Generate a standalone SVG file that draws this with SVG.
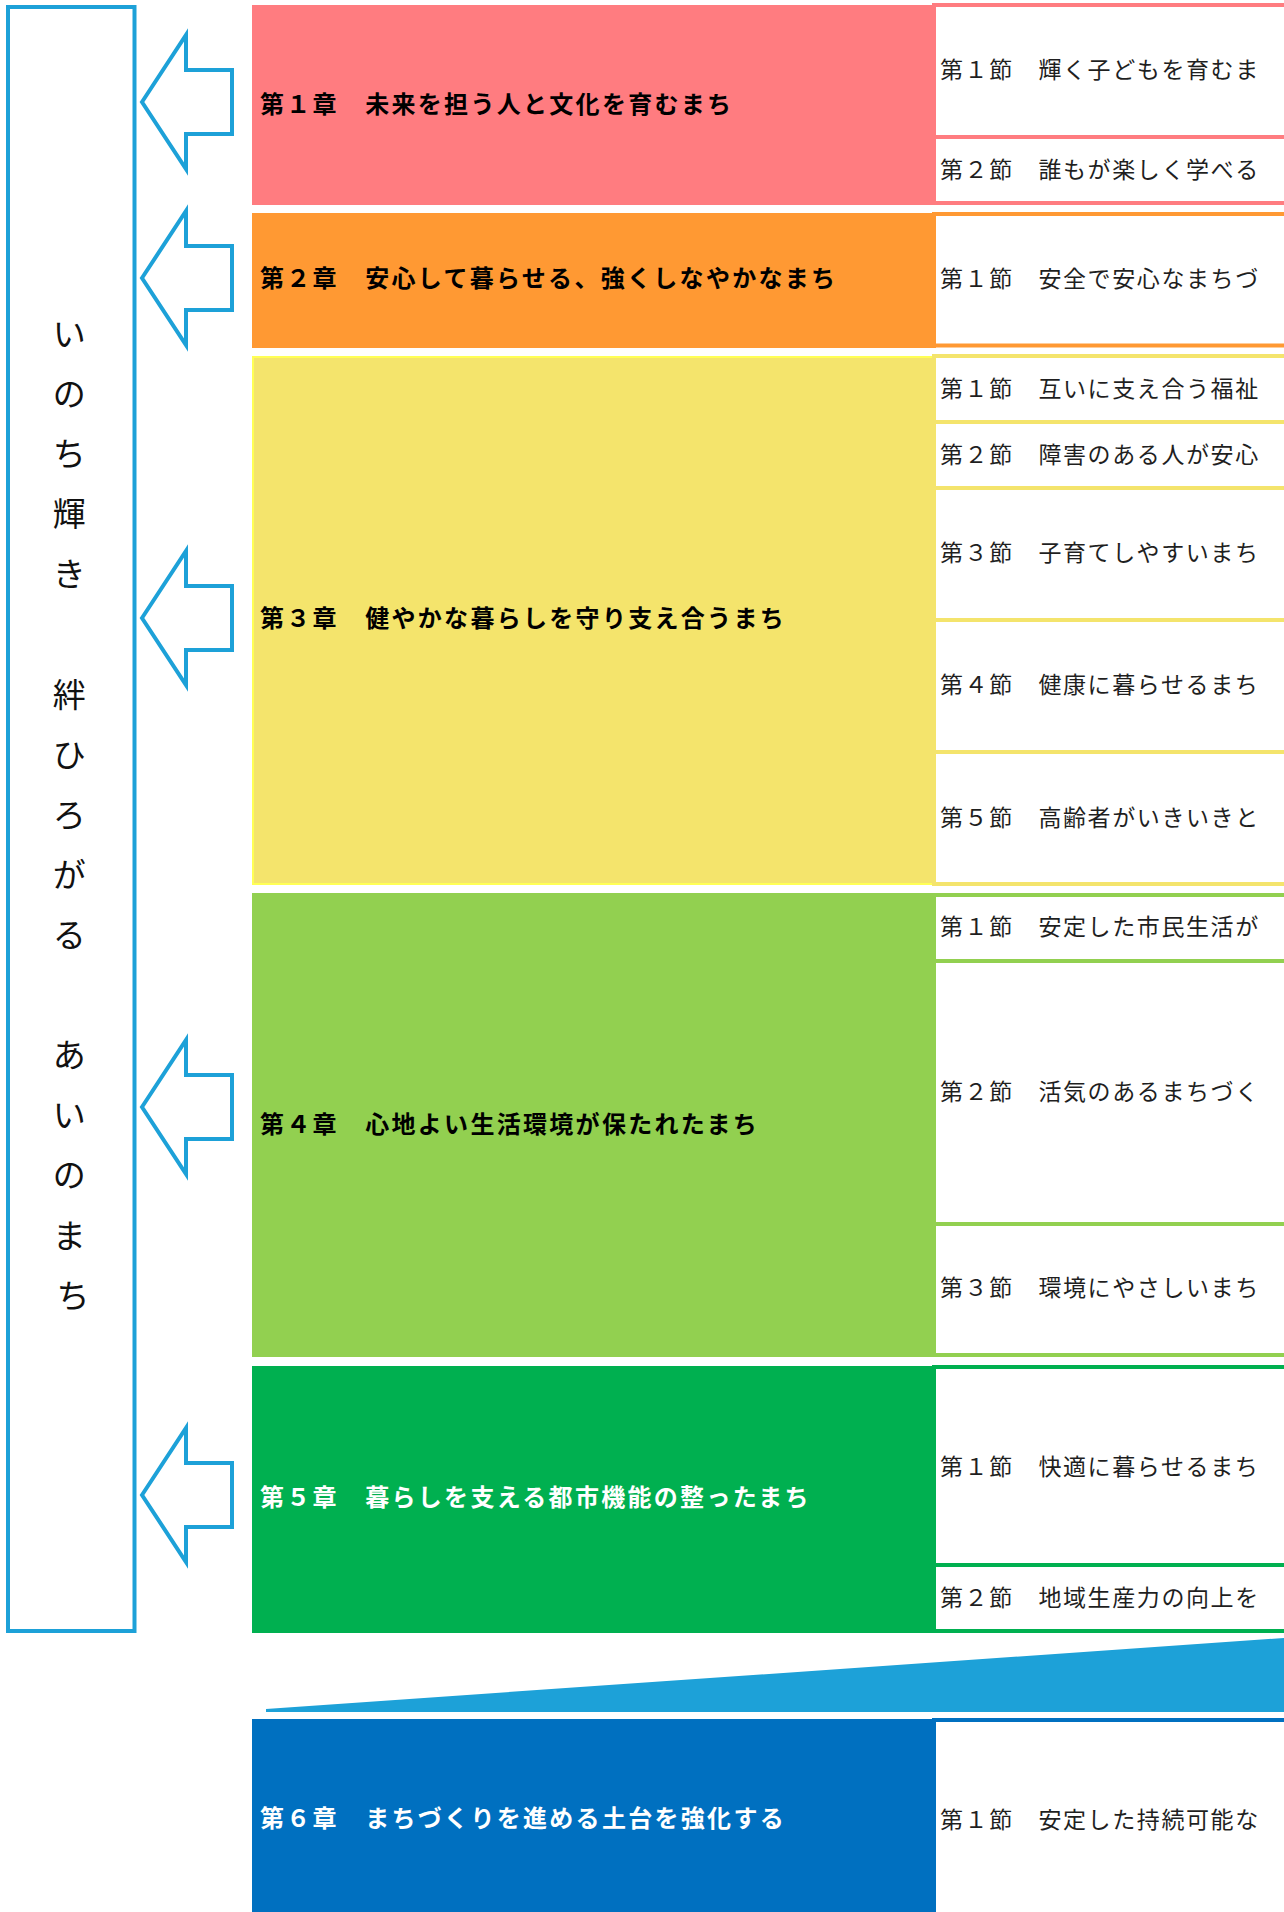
<svg xmlns="http://www.w3.org/2000/svg" width="1284" height="1912" viewBox="0 0 1284 1912">
<style>
.ct{font-family:"Noto Sans CJK JP","Noto Sans",sans-serif;font-weight:700;font-size:24px;letter-spacing:2.3px}
.st{font-family:"Noto Sans CJK JP","Noto Sans",sans-serif;font-weight:400;font-size:23px;letter-spacing:1.6px;fill:#1f1f1f}
.vt{font-family:"Noto Sans CJK JP","Noto Sans",sans-serif;font-weight:400;font-size:33px;fill:#111}
.arrow{fill:#fff;stroke:#1DA1D8;stroke-width:4;stroke-linejoin:miter}
.sec{fill:#fff;stroke-width:4}
</style>
<rect width="1284" height="1912" fill="#fff"/>
<g id="vision">
<rect x="8" y="7" width="126.5" height="1624" fill="#fff" stroke="#1DA1D8" stroke-width="4"/>
<text class="vt" text-anchor="middle">
<tspan x="73" y="346">い</tspan>
<tspan x="73" y="406.1">の</tspan>
<tspan x="73" y="466.2">ち</tspan>
<tspan x="73" y="526.3">輝</tspan>
<tspan x="73" y="586.4">き</tspan>
<tspan x="73" y="706.6">絆</tspan>
<tspan x="73" y="766.7">ひ</tspan>
<tspan x="73" y="826.8">ろ</tspan>
<tspan x="73" y="886.9">が</tspan>
<tspan x="73" y="947">る</tspan>
<tspan x="73" y="1067.2">あ</tspan>
<tspan x="73" y="1127.3">い</tspan>
<tspan x="73" y="1187.4">の</tspan>
<tspan x="73" y="1247.5">ま</tspan>
<tspan x="73" y="1307.6">ち</tspan>
</text>
</g>
<g id="connectors">
<polygon class="arrow" points="142,102 186,35 186,70 232,70 232,134 186,134 186,169"/>
<polygon class="arrow" points="142,278 186,211 186,246 232,246 232,310 186,310 186,345"/>
<polygon class="arrow" points="142,618 186,551 186,586 232,586 232,650 186,650 186,685"/>
<polygon class="arrow" points="142,1107 186,1040 186,1075 232,1075 232,1139 186,1139 186,1174"/>
<polygon class="arrow" points="142,1495 186,1428 186,1463 232,1463 232,1527 186,1527 186,1562"/>
</g>
<g id="chapter1">
<rect x="252" y="5" width="684" height="200" fill="#FF7C80"/>
<rect class="sec" x="934" y="5" width="360" height="132" stroke="#FF7C80"/>
<rect class="sec" x="934" y="137" width="360" height="66" stroke="#FF7C80"/>
<text class="ct" x="260" y="113" fill="#000">第１章　未来を担う人と文化を育むまち</text>
<text class="st" x="940" y="78">第１節　輝く子どもを育むま</text>
<text class="st" x="940" y="178">第２節　誰もが楽しく学べる</text>
</g>
<g id="chapter2">
<rect x="252" y="213" width="684" height="135" fill="#FF9933"/>
<rect class="sec" x="934" y="214" width="360" height="131.5" stroke="#FF9933"/>
<text class="ct" x="260" y="287" fill="#000">第２章　安心して暮らせる、強くしなやかなまち</text>
<text class="st" x="940" y="287">第１節　安全で安心なまちづ</text>
</g>
<g id="chapter3">
<rect x="253" y="357" width="682" height="527" fill="#F4E46C" stroke="#FFFF55" stroke-width="2"/>
<rect class="sec" x="934" y="356" width="360" height="66" stroke="#F4E46C"/>
<rect class="sec" x="934" y="422" width="360" height="66" stroke="#F4E46C"/>
<rect class="sec" x="934" y="488" width="360" height="132" stroke="#F4E46C"/>
<rect class="sec" x="934" y="620" width="360" height="132" stroke="#F4E46C"/>
<rect class="sec" x="934" y="752" width="360" height="132" stroke="#F4E46C"/>
<text class="ct" x="260" y="627" fill="#000">第３章　健やかな暮らしを守り支え合うまち</text>
<text class="st" x="940" y="397">第１節　互いに支え合う福祉</text>
<text class="st" x="940" y="463">第２節　障害のある人が安心</text>
<text class="st" x="940" y="561">第３節　子育てしやすいまち</text>
<text class="st" x="940" y="693">第４節　健康に暮らせるまち</text>
<text class="st" x="940" y="826">第５節　高齢者がいきいきと</text>
</g>
<g id="chapter4">
<rect x="252" y="893" width="684" height="464" fill="#92D050"/>
<rect class="sec" x="934" y="895" width="360" height="66" stroke="#92D050"/>
<rect class="sec" x="934" y="961" width="360" height="263" stroke="#92D050"/>
<rect class="sec" x="934" y="1224" width="360" height="131" stroke="#92D050"/>
<text class="ct" x="260" y="1133" fill="#000">第４章　心地よい生活環境が保たれたまち</text>
<text class="st" x="940" y="935">第１節　安定した市民生活が</text>
<text class="st" x="940" y="1100">第２節　活気のあるまちづく</text>
<text class="st" x="940" y="1296">第３節　環境にやさしいまち</text>
</g>
<g id="chapter5">
<rect x="252" y="1366" width="684" height="267" fill="#00B050"/>
<rect class="sec" x="934" y="1367" width="360" height="198" stroke="#00B050"/>
<rect class="sec" x="934" y="1565" width="360" height="66" stroke="#00B050"/>
<text class="ct" x="260" y="1506" fill="#fff">第５章　暮らしを支える都市機能の整ったまち</text>
<text class="st" x="940" y="1475">第１節　快適に暮らせるまち</text>
<text class="st" x="940" y="1606">第２節　地域生産力の向上を</text>
</g>
<g id="wedge">
<polygon points="266,1709 1284,1638 1284,1712 266,1712" fill="#1DA1D8"/>
</g>
<g id="chapter6">
<rect x="252" y="1719" width="684" height="200" fill="#0070C0"/>
<rect class="sec" x="934" y="1720" width="360" height="210" stroke="#0070C0"/>
<text class="ct" x="260" y="1827" fill="#fff">第６章　まちづくりを進める土台を強化する</text>
<text class="st" x="940" y="1828">第１節　安定した持続可能な</text>
</g>
</svg>
